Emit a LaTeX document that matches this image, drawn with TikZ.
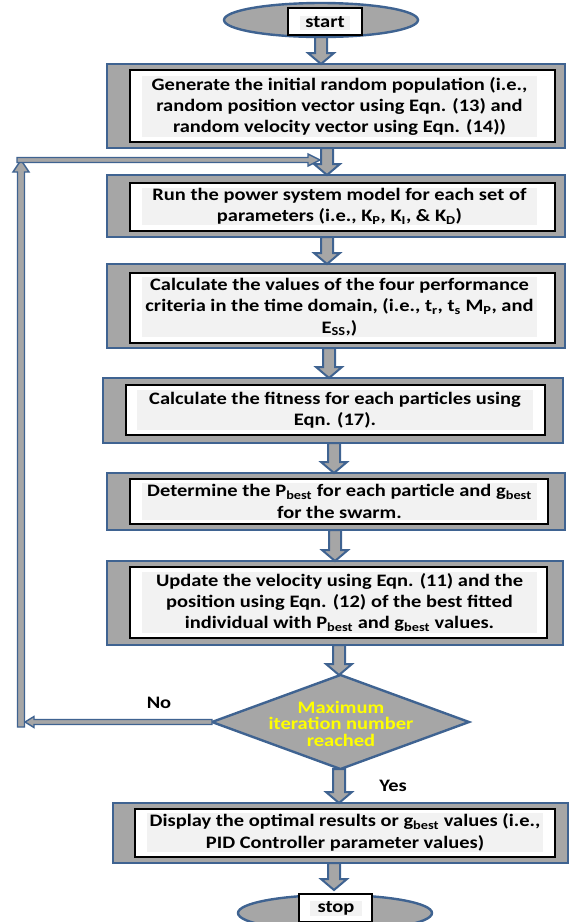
\documentclass[tikz,border=0pt]{standalone}
\usepackage{fontspec}
\setmainfont{Carlito}[FakeStretch=1.17]
\usetikzlibrary{shapes.geometric,calc}
\definecolor{edgeblue}{HTML}{3F6391}
\definecolor{shaftgray}{HTML}{A6A6A6}
\definecolor{bggray}{HTML}{F2F2F2}
\definecolor{ylw}{HTML}{FFFF00}
\tikzset{
  outerbox/.style={draw=edgeblue, fill=shaftgray, line width=2.4pt, rectangle, inner sep=0pt, outer sep=0pt},
  innerbox/.style={draw=black, fill=white, line width=1.2pt, rectangle, inner sep=0pt, outer sep=0pt},
  txtbox/.style={fill=bggray, inner sep=0pt, outer sep=0pt, align=center,
    font=\fontsize{17.5}{21.3}\selectfont\bfseries},
  termshape/.style={draw=edgeblue, fill=shaftgray, line width=2.4pt, ellipse, inner sep=0pt, outer sep=0pt},
  blkstyle/.style={draw=edgeblue, fill=shaftgray, line width=2pt, line join=miter},
  thinblk/.style={draw=edgeblue, fill=shaftgray, line width=1.4pt, line join=miter},
  lbl/.style={font=\fontsize{17.5}{21}\selectfont\bfseries, inner sep=0pt}
}
% #1 style, #2 start, #3 end, #4 shaft half width, #5 head half width, #6 head length
\newcommand\blkarrow[6]{%
  \coordinate (baS) at #2;
  \coordinate (baE) at #3;
  \coordinate (baH) at ($(baE)!#6!(baS)$);
  \draw[#1] ($(baS)!#4!90:(baE)$) -- ($(baH)!#4!90:(baE)$) -- ($(baH)!#5!90:(baE)$) -- (baE)
    -- ($(baH)!#5!-90:(baE)$) -- ($(baH)!#4!-90:(baE)$) -- ($(baS)!#4!-90:(baE)$) -- cycle;
}
\begin{document}
\begin{tikzpicture}[x=1pt,y=-1pt]
\useasboundingbox (0,0) rectangle (569,922);
\clip (0,0) rectangle (569,922);

% start
\node[termshape, minimum width=194pt, minimum height=34pt] (start) at (321,20) {};
\node[innerbox, minimum width=74pt, minimum height=27pt] (startr) at (325,21.5) {};
\node[txtbox, minimum width=50pt, minimum height=14pt] (startt) at (325,22.5) {start};

% box 1
\node[outerbox, minimum width=458pt, minimum height=84pt] (b1) at (336,106) {};
\node[innerbox, minimum width=425pt, minimum height=72pt] (b1i) at (342.5,106) {};
\node[txtbox, minimum width=395pt, minimum height=61pt] (b1t) at (339.5,106.5)
  {Generate the initial random population (i.e.,\\ random position vector using Eqn. (13) and\\ random velocity vector using Eqn. (14))};

% box 2
\node[outerbox, minimum width=458pt, minimum height=62pt] (b2) at (336,206) {};
\node[innerbox, minimum width=425pt, minimum height=48pt] (b2i) at (342.5,207) {};
\node[txtbox, minimum width=395pt, minimum height=37pt] (b2t) at (339.5,206.5)
  {Run the power system model for each set of\\ parameters (i.e., K\textsubscript{P}, K\textsubscript{I}, \& K\textsubscript{D})};

% box 3
\node[outerbox, minimum width=458pt, minimum height=84pt] (b3) at (336,306) {};
\node[innerbox, minimum width=425pt, minimum height=70pt] (b3i) at (342.5,308) {};
\node[txtbox, minimum width=395pt, minimum height=60pt] (b3t) at (339.5,307)
  {Calculate the values of the four performance\\ criteria in the time domain, (i.e., t\textsubscript{r}, t\textsubscript{s} M\textsubscript{P}, and\\ E\textsubscript{SS},)};

% box 4
\node[outerbox, minimum width=460pt, minimum height=65pt] (b4) at (333,410.5) {};
\node[innerbox, minimum width=419pt, minimum height=50pt] (b4i) at (335.5,410) {};
\node[txtbox, minimum width=396pt, minimum height=40pt] (b4t) at (335,410)
  {Calculate the fitness for each particles using\\ Eqn. (17).};

% box 5
\node[outerbox, minimum width=458pt, minimum height=57pt] (b5) at (336,501.5) {};
\node[innerbox, minimum width=418pt, minimum height=45pt] (b5i) at (339,501.5) {};
\node[txtbox, minimum width=395pt, minimum height=37pt] (b5t) at (339.5,501.5)
  {Determine the P\textsubscript{best} for each particle and g\textsubscript{best}\\ for the swarm.};

% box 6
\node[outerbox, minimum width=456pt, minimum height=84pt] (b6) at (335,603) {};
\node[innerbox, minimum width=417pt, minimum height=71pt] (b6i) at (338.5,602.5) {};
\node[txtbox, minimum width=395pt, minimum height=61pt] (b6t) at (339.5,602.5)
  {Update the velocity using Eqn. (11) and the\\ position using Eqn. (12) of the best fitted\\ individual with P\textsubscript{best} and g\textsubscript{best} values.};

% decision
\node[diamond, draw=edgeblue, fill=shaftgray, line width=2.4pt, minimum width=257pt, minimum height=94pt, inner sep=0pt, outer sep=0pt] (d) at (340.5,722) {};
\node[align=center, text=ylw, font=\fontsize{17.5}{16.5}\selectfont\bfseries, inner sep=0pt] (dt) at (341,723.5)
  {Maximum\\ iteration number\\ reached};

% box 7
\node[outerbox, minimum width=455pt, minimum height=60pt] (b7) at (340.5,833) {};
\node[innerbox, minimum width=420pt, minimum height=48pt] (b7i) at (345,833) {};
\node[txtbox, minimum width=396pt, minimum height=39pt] (b7t) at (345,832.5)
  {Display the optimal results or g\textsubscript{best} values (i.e.,\\ PID Controller parameter values)};

% stop
\node[termshape, minimum width=194pt, minimum height=36pt] (stop) at (335,913) {};
\node[innerbox, minimum width=73pt, minimum height=28pt] (stopr) at (335.5,908) {};
\node[txtbox, minimum width=52pt, minimum height=15pt] (stopt) at (336,908.5) {stop};

% vertical block arrows
\blkarrow{blkstyle}{(start.south)}{(start.south |- b1.north)}{6pt}{13pt}{11pt}
\coordinate (a1) at ([xshift=-9pt]b1.south);
\blkarrow{blkstyle}{(a1)}{(a1 |- b2.north)}{6pt}{13pt}{11pt}
\coordinate (a2) at ([xshift=-9pt]b2.south);
\blkarrow{blkstyle}{(a2)}{(a2 |- b3.north)}{6pt}{13pt}{11pt}
\coordinate (a3) at ([xshift=-7pt]b3.south);
\blkarrow{blkstyle}{(a3)}{(a3 |- b4.north)}{6pt}{13pt}{11pt}
\coordinate (a4) at ([xshift=1pt]b4.south);
\blkarrow{blkstyle}{(a4)}{(a4 |- b5.north)}{6pt}{13pt}{11pt}
\coordinate (a5) at ([xshift=-1pt]b5.south);
\blkarrow{blkstyle}{(a5)}{(a5 |- b6.north)}{6pt}{13pt}{11pt}
\coordinate (a6) at ([xshift=-1.5pt]d.north);
\blkarrow{blkstyle}{(a6 |- b6.south)}{(a6)}{6pt}{13pt}{11pt}
\coordinate (a7) at ([xshift=-1.5pt]d.south);
\blkarrow{blkstyle}{(a7)}{(a7 |- b7.north)}{6pt}{13pt}{11pt}
\coordinate (a8) at ([xshift=-6.5pt]b7.south);
\blkarrow{blkstyle}{(a8)}{([yshift=5pt]a8 |- stop.north)}{6pt}{13pt}{11pt}

% loop back
\coordinate (lb) at (21,722);
\coordinate (lt) at (21,160);
\coordinate (loopin) at ($(a1 |- lt)+(-7,0)$);
\blkarrow{thinblk}{(d.west)}{([xshift=4pt]lb)}{2.5pt}{5.5pt}{9pt}
\blkarrow{thinblk}{([yshift=-5pt]lb)}{(lt)}{3.5pt}{8pt}{12pt}
\blkarrow{thinblk}{([xshift=-4pt]lt)}{(loopin)}{2.5pt}{6pt}{12pt}

% labels
\node[lbl] (no) at (159,703) {No};
\node[lbl] (yes) at (393,786) {Yes};
\end{tikzpicture}
\end{document}
